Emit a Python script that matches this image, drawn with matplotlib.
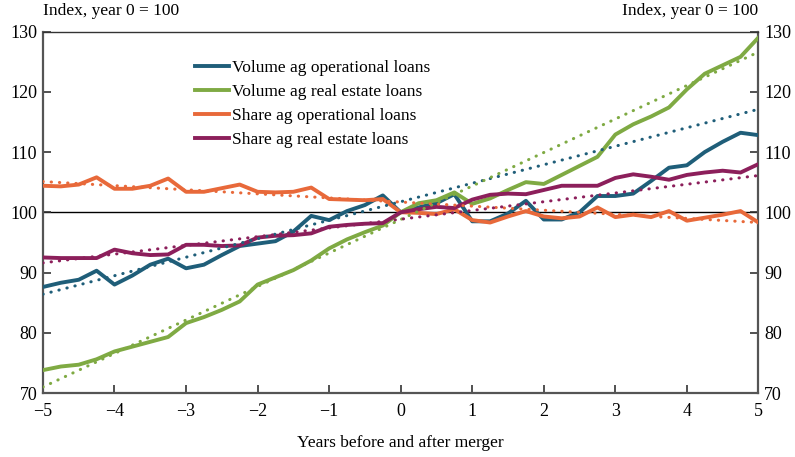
import numpy as np
import matplotlib
matplotlib.use("Agg")
import matplotlib.pyplot as plt

# quarterly index, years before/after merger (year 0 = 100)
years = np.arange(-5, 5.01, 0.25)

vol_operational = [87.6, 88.3, 88.8, 90.3, 88.0, 89.5, 91.3, 92.3, 90.7, 91.3,
                   92.9, 94.4, 94.8, 95.2, 96.8, 99.4, 98.7, 100.2, 101.2, 102.8,
                   100.0, 100.8, 101.5, 103.0, 98.5, 98.5, 99.8, 101.9, 98.8, 98.8,
                   100.0, 102.7, 102.7, 103.1, 105.2, 107.4, 107.8, 110.0, 111.7, 113.2,
                   112.8]
vol_realestate = [73.8, 74.4, 74.7, 75.6, 76.9, 77.7, 78.5, 79.3, 81.6, 82.6,
                  83.8, 85.2, 88.0, 89.2, 90.4, 92.0, 94.0, 95.5, 96.7, 97.8,
                  100.0, 101.5, 102.0, 103.3, 101.4, 102.3, 103.7, 105.0, 104.7, 106.2,
                  107.7, 109.2, 112.9, 114.6, 115.9, 117.4, 120.4, 123.0, 124.4, 125.8,
                  129.0]
share_operational = [104.4, 104.3, 104.6, 105.8, 103.9, 103.9, 104.4, 105.6, 103.4, 103.4,
                     104.0, 104.6, 103.4, 103.3, 103.4, 104.1, 102.2, 102.1, 102.0, 102.2,
                     100.0, 99.9, 99.7, 100.5, 98.7, 98.3, 99.3, 100.2, 99.3, 99.0,
                     99.3, 100.8, 99.2, 99.6, 99.2, 100.2, 98.6, 99.1, 99.6, 100.2,
                     98.3]
share_realestate = [92.5, 92.4, 92.4, 92.4, 93.8, 93.2, 92.9, 93.0, 94.6, 94.6,
                    94.4, 94.5, 95.8, 96.1, 96.2, 96.5, 97.6, 97.9, 98.1, 98.2,
                    100.0, 100.5, 100.9, 100.7, 102.1, 102.9, 103.1, 103.0, 103.7, 104.4,
                    104.4, 104.4, 105.7, 106.3, 105.9, 105.4, 106.2, 106.6, 106.9, 106.6,
                    108.0]

# dotted trend lines, values at year -5 and year 5
trend_years = [-5, 5]
trend_vol_operational = [86.4, 117.1]
trend_vol_realestate = [71.0, 126.6]
trend_share_operational = [105.1, 98.3]
trend_share_realestate = [91.6, 106.1]

labels = ["Volume ag operational loans", "Volume ag real estate loans",
          "Share ag operational loans", "Share ag real estate loans"]
colors = ["#1f5e79", "#7faa43", "#e8693a", "#8c1f5b"]

plt.rcParams['font.family'] = ['Liberation Serif', 'DejaVu Serif']
plt.rcParams['font.size'] = 12

fig = plt.figure(figsize=(7.95, 4.57), dpi=100)
ax = fig.add_axes([0.054, 0.140, 0.900, 0.791])

ax.axhline(100, color='black', lw=1.0, zorder=1)

series = [vol_operational, vol_realestate, share_operational, share_realestate]
trends = [trend_vol_operational, trend_vol_realestate,
          trend_share_operational, trend_share_realestate]

for vals, lab, col in zip(series, labels, colors):
    ax.plot(years, vals, color=col, lw=2.8, label=lab, solid_joinstyle='round', zorder=3)

for tr, col in zip(trends, colors):
    ax.plot(trend_years, tr, color=col, lw=2.2,
            linestyle=(0, (0.1, 2.6)), dash_capstyle='round', zorder=4)

ax.set_xlim(-5, 5)
ax.set_ylim(70, 130)
ax.set_xticks(range(-5, 6))
ax.set_yticks(range(70, 131, 10))
ax.tick_params(axis='x', direction='in', length=6, width=1.2, color='#333333', pad=7, labelsize=13)
ax.tick_params(axis='y', direction='in', length=6, width=1.2, color='#333333', labelsize=13,
               left=True, right=True, labelleft=True, labelright=True, pad=4)
for side in ['left', 'right', 'bottom']:
    ax.spines[side].set_color('#555555')
    ax.spines[side].set_linewidth(1.6)
ax.spines['top'].set_color('#333333')
ax.spines['top'].set_linewidth(1.0)

ax.set_xlabel("Years before and after merger", fontsize=12.5, labelpad=11)
fig.text(0.054, 0.958, "Index, year 0 = 100", fontsize=12.5, ha='left', va='bottom')
fig.text(0.953, 0.958, "Index, year 0 = 100", fontsize=12.5, ha='right', va='bottom')

ax.legend(loc='upper left', bbox_to_anchor=(0.195, 0.955), frameon=False,
          handlelength=2.0, handletextpad=0.15, labelspacing=0.45, borderpad=0.2,
          fontsize=12.5)

fig.savefig("out.png", dpi=100)
